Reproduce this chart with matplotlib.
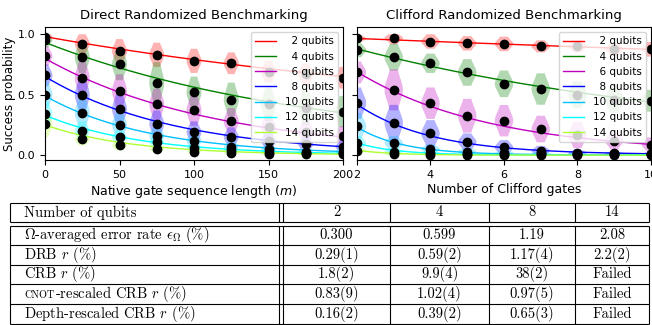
import numpy as np
import matplotlib.pyplot as plt

qubits = [2, 4, 6, 8, 10, 12, 14]
colors = ['red', 'green', 'm', 'blue', 'deepskyblue', 'cyan', 'greenyellow']
asym = [0.25, 0.0625, 0.0156, 0.0039, 0.001, 0.0002, 0.0001]

# direct RB: mean success probability per sequence length
drb_len = [0, 25, 50, 75, 100, 125, 150, 175, 200]
drb_mean = [
    [0.98, 0.92, 0.86, 0.83, 0.78, 0.76, 0.69, 0.67, 0.64],
    [0.95, 0.81, 0.75, 0.60, 0.52, 0.46, 0.42, 0.39, 0.36],
    [0.82, 0.64, 0.53, 0.42, 0.37, 0.28, 0.23, 0.19, 0.16],
    [0.66, 0.50, 0.38, 0.26, 0.19, 0.15, 0.12, 0.09, 0.07],
    [0.50, 0.35, 0.25, 0.16, 0.12, 0.07, 0.05, 0.03, 0.03],
    [0.34, 0.20, 0.15, 0.11, 0.06, 0.04, 0.03, 0.02, 0.02],
    [0.26, 0.13, 0.08, 0.05, 0.03, 0.02, 0.01, 0.01, 0.01],
]
drb_spread = [
    [0.04, 0.09, 0.10, 0.10, 0.10, 0.09, 0.09, 0.09, 0.09],
    [0.06, 0.13, 0.13, 0.17, 0.13, 0.14, 0.14, 0.14, 0.13],
    [0.08, 0.14, 0.14, 0.13, 0.13, 0.11, 0.10, 0.09, 0.08],
    [0.09, 0.14, 0.13, 0.11, 0.09, 0.08, 0.07, 0.06, 0.05],
    [0.11, 0.13, 0.11, 0.08, 0.07, 0.05, 0.04, 0.03, 0.03],
    [0.11, 0.08, 0.06, 0.05, 0.04, 0.03, 0.02, 0.02, 0.02],
    [0.11, 0.05, 0.04, 0.03, 0.02, 0.02, 0.02, 0.02, 0.02],
]
drb_amp = [0.73, 0.87, 0.784, 0.646, 0.489, 0.33, 0.25]
drb_rate = [0.997, 0.99447, 0.99122, 0.98866, 0.98595, 0.9846, 0.98295]

# Clifford RB
crb_len = [2, 3, 4, 5, 6, 7, 8, 9, 10]
crb_mean = [
    [0.965, 0.965, 0.94, 0.925, 0.92, 0.90, 0.90, 0.878, 0.875],
    [0.87, 0.81, 0.76, 0.684, 0.59, 0.547, 0.50, 0.46, 0.45],
    [0.684, 0.54, 0.43, 0.326, 0.285, 0.216, 0.167, 0.12, 0.087],
    [0.43, 0.266, 0.18, 0.11, 0.065, 0.037, 0.02, 0.015, 0.012],
    [0.24, 0.10, 0.05, 0.03, 0.02, 0.015, 0.012, 0.01, 0.01],
    [0.10, 0.03, 0.02, 0.01, 0.01, 0.01, 0.01, 0.01, 0.01],
    [0.037, 0.01, 0.005, 0.005, 0.005, 0.005, 0.005, 0.005, 0.005],
]
crb_spread = [
    [0.03, 0.05, 0.06, 0.06, 0.06, 0.05, 0.05, 0.05, 0.06],
    [0.06, 0.11, 0.08, 0.11, 0.11, 0.13, 0.11, 0.11, 0.09],
    [0.09, 0.17, 0.13, 0.14, 0.13, 0.11, 0.11, 0.07, 0.06],
    [0.13, 0.15, 0.11, 0.07, 0.06, 0.04, 0.03, 0.02, 0.02],
    [0.11, 0.06, 0.04, 0.03, 0.02, 0.02, 0.02, 0.02, 0.02],
    [0.06, 0.03, 0.02, 0.02, 0.02, 0.02, 0.02, 0.02, 0.02],
    [0.03, 0.02, 0.02, 0.02, 0.02, 0.02, 0.02, 0.02, 0.02],
]
crb_amp = [0.7395, 0.99, 1.17, 1.118, 1.14, 0.63, 0.29]
crb_rate = [0.9833, 0.908, 0.7589, 0.61, 0.45, 0.40, 0.37]

# table
tab_header = ['2', '4', '8', '14']
tab_labels = [r'$\Omega$-averaged error rate $\epsilon_\Omega$ (%)',
              r'DRB $r$ (%)',
              r'CRB $r$ (%)',
              r'-rescaled CRB $r$ (%)',
              r'Depth-rescaled CRB $r$ (%)']
tab_values = [
    ['0.300', '0.599', '1.19', '2.08'],
    ['0.29(1)', '0.59(2)', '1.17(4)', '2.2(2)'],
    ['1.8(2)', '9.9(4)', '38(2)', 'Failed'],
    ['0.83(9)', '1.02(4)', '0.97(5)', 'Failed'],
    ['0.16(2)', '0.39(2)', '0.65(3)', 'Failed'],
]


def draw_panel(ax, x, means, spreads, amp, rate, width):
    for i in range(len(qubits)):
        samples = [[max(m - s, 0.0), m, m, m, min(m + s, 1.0)]
                   for m, s in zip(means[i], spreads[i])]
        parts = ax.violinplot(samples, positions=x, widths=width, showextrema=False)
        for body in parts['bodies']:
            body.set_facecolor(colors[i])
            body.set_edgecolor('none')
            body.set_alpha(0.3)
    xx = np.linspace(x[0], x[-1], 300)
    for i, n in enumerate(qubits):
        lab = ('  ' if n < 10 else '') + f'{n} qubits'
        ax.plot(xx, amp[i] * rate[i] ** xx + asym[i], color=colors[i], lw=1, label=lab)
    for i in range(len(qubits)):
        ax.plot(x, means[i], 'o', color='black', ms=6, zorder=3)
    ax.set_xlim(x[0], x[-1])
    ax.set_ylim(-0.04, 1.06)
    ax.tick_params(labelsize=8)
    ax.legend(loc='upper right', fontsize=7.5)


fig = plt.figure(figsize=(6.52, 3.25), dpi=100)

tab = fig.add_axes([0, 0, 1, 125 / 325])
tab.set_xlim(0, 652)
tab.set_ylim(325, 200)
tab.axis('off')

ax1 = fig.add_axes([45 / 652, 165 / 325, 298 / 652, 133 / 325])
ax2 = fig.add_axes([357 / 652, 165 / 325, 294 / 652, 133 / 325], sharey=ax1)

draw_panel(ax1, drb_len, drb_mean, drb_spread, drb_amp, drb_rate, 10)
draw_panel(ax2, crb_len, crb_mean, crb_spread, crb_amp, crb_rate, 0.5)
ax1.set_xticks([0, 50, 100, 150, 200])
ax1.set_yticks([0.0, 0.5, 1.0])
ax2.set_xticks([2, 4, 6, 8, 10])
ax2.tick_params(labelleft=False)

ax1.set_title('Direct Randomized Benchmarking', fontsize=9.5)
ax2.set_title('Clifford Randomized Benchmarking', fontsize=9.5)
ax1.set_xlabel('Native gate sequence length ($m$)', fontsize=9, labelpad=2)
ax2.set_xlabel('Number of Clifford gates', fontsize=9, labelpad=2)
ax1.set_ylabel('Success probability', fontsize=8.5, labelpad=1)

# table drawing
lk = dict(color='black', lw=0.8)
xl, xd1, xd2, xr = 10, 279, 283, 649
col_edges = [xd2, 390, 489, 575, xr]
h_top, h_bot = 203, 222
b_top, b_bot = 225.5, 323.5
row_edges = np.linspace(b_top, b_bot, len(tab_labels) + 1)

tab.hlines([h_top, h_bot], xl, xr, **lk)
tab.hlines(row_edges, xl, xr, **lk)
for xv in [xl, xd1] + col_edges:
    tab.vlines(xv, h_top, h_bot, **lk)
    tab.vlines(xv, b_top, b_bot, **lk)

fs = 10.5
tk = dict(fontfamily='cmr10', math_fontfamily='cm', fontsize=fs, va='center')
tab.text(24, (h_top + h_bot) / 2, 'Number of qubits', ha='left', **tk)
for j, h in enumerate(tab_header):
    tab.text((col_edges[j] + col_edges[j + 1]) / 2, (h_top + h_bot) / 2, h, ha='center', **tk)

renderer = fig.canvas.get_renderer()
for i, lab in enumerate(tab_labels):
    yc = (row_edges[i] + row_edges[i + 1]) / 2
    if i == 3:
        # small-caps "cnot", then the rest of the label on the same baseline
        yb = yc + 4
        t = tab.text(24, yb, 'CNOT', ha='left', va='baseline', fontfamily='cmr10', fontsize=7.3)
        w = t.get_window_extent(renderer).width
        tab.text(24 + w + 0.5, yb, lab, ha='left', va='baseline',
                 fontfamily='cmr10', math_fontfamily='cm', fontsize=fs)
    else:
        tab.text(24, yc, lab, ha='left', **tk)
    for j, v in enumerate(tab_values[i]):
        tab.text((col_edges[j] + col_edges[j + 1]) / 2, yc, v, ha='center', **tk)

plt.savefig('out.png', dpi=100)
